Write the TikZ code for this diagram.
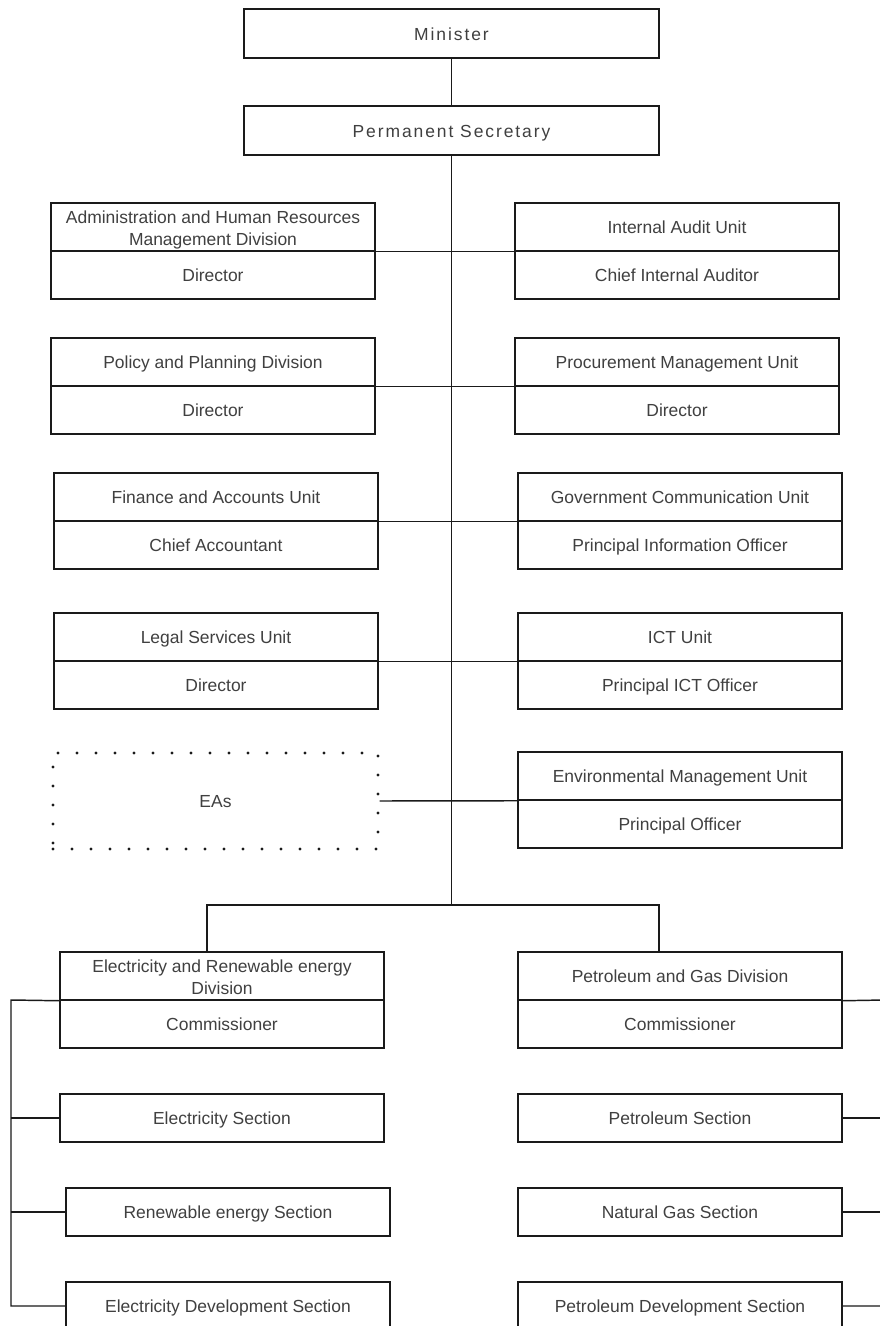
\documentclass[tikz,border=0pt]{standalone}
\usepackage{fontspec}
\setmainfont{Liberation Sans}
\newfontfamily\spacedfont[LetterSpace=11]{Liberation Sans}
\newlength\px
\setlength\px{0.75pt}
\definecolor{textc}{HTML}{404040}
\definecolor{linec}{HTML}{1A1A1A}
\begin{document}
\begin{tikzpicture}[x=0.75pt,y=-0.75pt,
  basebox/.style={draw=linec, line width=1.1pt, minimum width=324\px, minimum height=48\px,
    inner sep=0pt, text=textc, align=center,
    font=\fontsize{13.1pt}{16.5pt}\selectfont},
  box/.style={basebox, text height=11.5pt, text depth=1.7pt},
  twobox/.style={basebox, text height=28pt, text depth=0pt},
  topbox/.style={box, minimum width=415\px, minimum height=49\px,
    font=\fontsize{13.1pt}{16.5pt}\spacedfont},
  dotbox/.style={draw=linec, line width=2.6pt, dash pattern=on 0pt off 19\px, line cap=round,
    minimum width=325\px, minimum height=96\px, inner sep=0pt, text=textc,
    text height=11.5pt, text depth=1.7pt,
    font=\fontsize{13.1pt}{16.5pt}\selectfont},
  link/.style={draw=linec, line width=1.1pt}]
\useasboundingbox (0,0) rectangle (880,1326);
\clip (0,0) rectangle (880,1326);
\fill[white] (0,0) rectangle (880,1326);

% top
\node[topbox] (min) at (451.5,33.5) {Minister};
\node[topbox] (ps) at (451.5,130.5) {Permanent Secretary};

% row 1
\node[twobox] (adm1) at (213,227) {Administration and Human Resources\\Management Division};
\node[box] (adm2) at (213,275) {Director};
\node[box] (ia1) at (677,227) {Internal Audit Unit};
\node[box] (ia2) at (677,275) {Chief Internal Auditor};
% row 2
\node[box] (pp1) at (213,362) {Policy and Planning Division};
\node[box] (pp2) at (213,410) {Director};
\node[box] (pmu1) at (677,362) {Procurement Management Unit};
\node[box] (pmu2) at (677,410) {Director};
% row 3
\node[box] (fa1) at (216,497) {Finance and Accounts Unit};
\node[box] (fa2) at (216,545) {Chief Accountant};
\node[box] (gc1) at (680,497) {Government Communication Unit};
\node[box] (gc2) at (680,545) {Principal Information Officer};
% row 4
\node[box] (ls1) at (216,637) {Legal Services Unit};
\node[box] (ls2) at (216,685) {Director};
\node[box] (ict1) at (680,637) {ICT Unit};
\node[box] (ict2) at (680,685) {Principal ICT Officer};
% row 5
\node[dotbox] (eas) at (215.5,801) {EAs};
\node[box] (env1) at (680,776) {Environmental Management Unit};
\node[box] (env2) at (680,824) {Principal Officer};

% divisions
\node[twobox] (ed1) at (222,976) {Electricity and Renewable energy\\Division};
\node[box] (ed2) at (222,1024) {Commissioner};
\node[box] (pd1) at (680,976) {Petroleum and Gas Division};
\node[box] (pd2) at (680,1024) {Commissioner};

% sections
\node[box] (esec) at (222,1118) {Electricity Section};
\node[box] (rsec) at (228,1212) {Renewable energy Section};
\node[box] (edsec) at (228,1306) {Electricity Development Section};
\node[box] (psec) at (680,1118) {Petroleum Section};
\node[box] (ngsec) at (680,1212) {Natural Gas Section};
\node[box] (pdsec) at (680,1306) {Petroleum Development Section};

% connectors
\draw[link] (min.south) -- (ps.north);
\coordinate (bus) at (451.5,905);
\draw[link] (ps.south) -- (bus);
\draw[link] (adm1.south east) -- (ia1.south west);
\draw[link] (pp1.south east) -- (pmu1.south west);
\draw[link] (fa1.south east) -- (gc1.south west);
\draw[link] (ls1.south east) -- (ict1.south west);
\draw[link] (eas.east) -- (env1.south west);

\coordinate (bl) at (207,905);
\coordinate (br) at (659,905);
\draw[link] (bl |- ed1.north) -- (bl) -- (br) -- (br |- pd1.north);

\coordinate (lbt) at (11,1000);
\coordinate (lbb) at (11,1306);
\draw[link] (ed1.south west) -- (lbt) -- (lbb) -- (edsec.west);
\draw[link] (lbt |- esec.west) -- (esec.west);
\draw[link] (lbt |- rsec.west) -- (rsec.west);

\coordinate (rbt) at (884,1000);
\coordinate (rbb) at (884,1306);
\draw[link] (pd1.south east) -- (rbt) -- (rbb) -- (pdsec.east);
\draw[link] (rbt |- psec.east) -- (psec.east);
\draw[link] (rbt |- ngsec.east) -- (ngsec.east);
\end{tikzpicture}
\end{document}
